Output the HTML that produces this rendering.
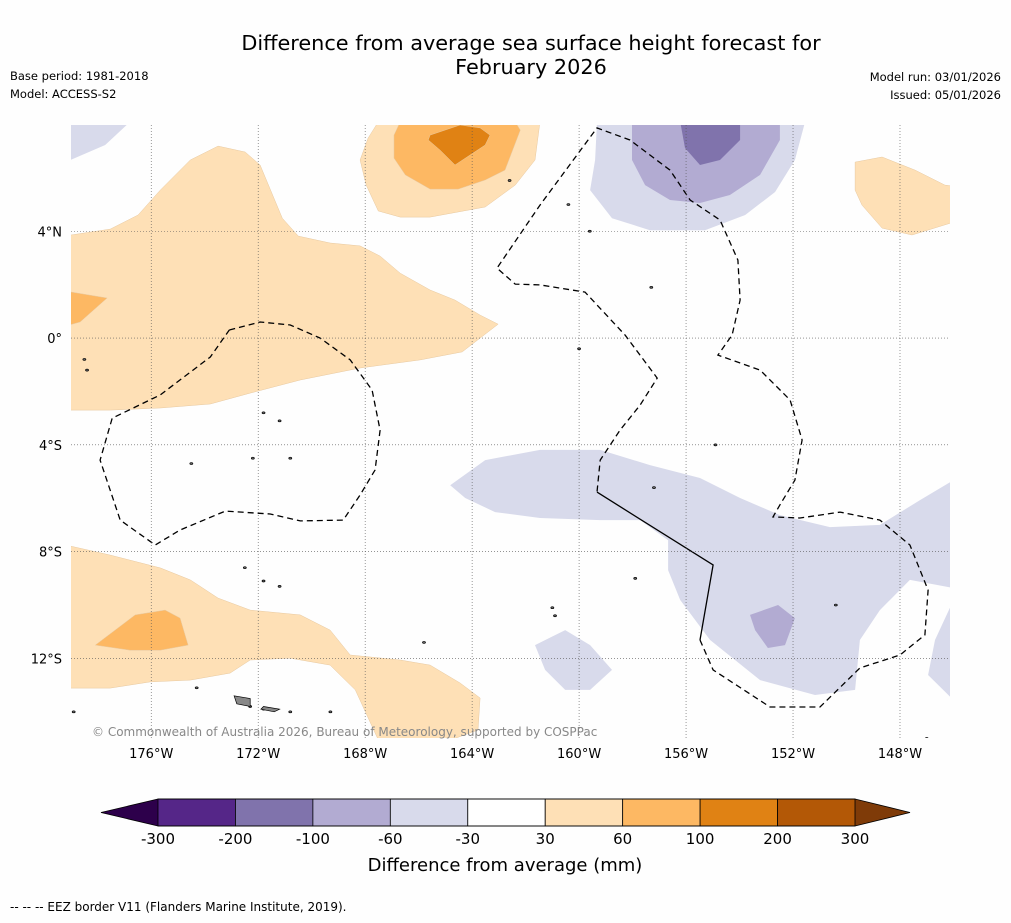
<!DOCTYPE html>
<html><head><meta charset="utf-8"><style>
body{margin:0;background:#fefefe;font-family:"DejaVu Sans","Liberation Sans",sans-serif;}
</style></head><body>
<svg id="chart" width="1011" height="919" xmlns="http://www.w3.org/2000/svg" font-family="DejaVu Sans, Liberation Sans, sans-serif">
<rect width="1011" height="919" fill="#fefefe"/>
<text x="531" y="50" font-size="20.8" text-anchor="middle">Difference from average sea surface height forecast for</text>
<text x="531" y="74" font-size="20.8" text-anchor="middle">February 2026</text>
<text x="10" y="80" font-size="11.5">Base period: 1981-2018</text>
<text x="10" y="98" font-size="11.5">Model: ACCESS-S2</text>
<text x="1001" y="81" font-size="11.5" text-anchor="end">Model run: 03/01/2026</text>
<text x="1001" y="99" font-size="11.5" text-anchor="end">Issued: 05/01/2026</text>
<defs><clipPath id="mapclip"><rect x="71" y="125" width="879" height="613"/></clipPath></defs>
<g id="map" clip-path="url(#mapclip)"></g>
<g id="axes"></g>
<text x="92" y="736" font-size="12" fill="#888">© Commonwealth of Australia 2026, Bureau of Meteorology, supported by COSPPac</text>
<g id="cbar"></g>
<text x="505" y="871" font-size="18" text-anchor="middle">Difference from average (mm)</text>
<text x="10" y="911" font-size="12">--  --  -- EEZ border V11 (Flanders Marine Institute, 2019).</text>
</svg>
<script>
const lonTicks=[-176,-172,-168,-164,-160,-156,-152,-148];
const latTicks=[4,0,-4,-8,-12];
const cbLevels=[-300,-200,-100,-60,-30,30,60,100,200,300];
const cbColors=["#552688","#8073ac","#b2abd2","#d8daeb","#ffffff","#fee0b6","#fdb863","#e08214","#b35806"];
const levelColor={L1:"#d8daeb",L2:"#b2abd2",L3:"#8073ac",O1:"#fee0b6",O2:"#fdb863",O3:"#e08214"};
const contourLevels=["O1","O2","O1","O2","O3","O1","L1","L1","L2","L3","L1","L1","L1","L2","O1","O2"];
const contourShapes=[
"-179,3.86 -177.53,4.08 -176.49,4.61 -175.66,5.54 -174.54,6.67 -173.5,7.19 -172.49,6.97 -171.93,6.48 -171.1,4.49 -170.5,3.82 -169.31,3.56 -168.19,3.45 -167.44,3.07 -166.69,2.43 -165.57,1.8 -164.64,1.42 -163.7,0.86 -163.03,0.52 -164.37,-0.52 -165.94,-0.82 -168.19,-1.12 -170.43,-1.57 -172.3,-2.06 -173.79,-2.47 -175.66,-2.62 -177.53,-2.7 -179.2,-2.7 -179.2,3.86",
"-179.2,1.76 -177.65,1.5 -178.66,0.6 -179.2,0.45",
"-167.51,8.1 -161.46,8.1 -161.65,6.67 -162.39,5.73 -163.51,4.91 -165.57,4.53 -166.69,4.53 -167.51,4.76 -167.96,5.73 -168.19,6.67 -167.89,7.49",
"-166.69,8.1 -162.39,8.1 -162.2,7.79 -162.77,6.29 -163.51,5.92 -164.52,5.58 -165.57,5.58 -166.5,6.11 -166.92,6.74 -166.92,7.6",
"-165.57,7.6 -164.45,7.98 -163.7,7.87 -163.33,7.6 -163.51,7.23 -164.64,6.48 -165.2,7.04 -165.64,7.42",
"-149.68,6.59 -148.67,6.78 -147.44,6.29 -146.32,5.73 -146,5.69 -146,4.34 -147.55,3.86 -148.67,4.12 -149.42,4.98 -149.68,5.54",
"-179.2,8.1 -176.79,8.1 -177.72,7.23 -179.2,6.59",
"-159.33,8.1 -151.55,8.1 -151.93,6.67 -152.67,5.47 -153.79,4.61 -155.29,4.04 -157.35,4.04 -158.77,4.49 -159.59,5.54 -159.4,6.67",
"-158.02,8.1 -152.49,8.1 -152.49,7.42 -153.23,6.11 -154.36,5.36 -155.48,5.06 -156.6,5.17 -157.53,5.73 -158.02,6.67",
"-156.22,8.1 -153.98,8.1 -153.98,7.42 -154.73,6.67 -155.48,6.48 -156.04,7.12",
"-164.82,-5.51 -163.51,-4.57 -161.46,-4.19 -159.21,-4.19 -157.35,-4.76 -155.48,-5.24 -153.98,-5.99 -152.49,-6.63 -150.62,-7.08 -148.75,-7.0 -147.25,-6.07 -146,-5.32 -146,-9.36 -147.63,-9.06 -148.75,-10.19 -149.5,-11.31 -149.68,-13.18 -151.18,-13.37 -153.23,-12.81 -155.1,-11.31 -156.22,-9.81 -156.67,-8.69 -156.67,-7.57 -157.72,-6.82 -159.21,-6.82 -161.46,-6.74 -163.14,-6.52 -164.26,-5.99",
"-146,-9.81 -146.69,-11.31 -146.95,-12.62 -146,-13.56",
"-161.65,-11.5 -160.52,-10.94 -159.59,-11.5 -158.77,-12.43 -159.59,-13.18 -160.52,-13.18 -161.27,-12.43",
"-153.61,-10.37 -152.56,-10.0 -151.93,-10.49 -152.3,-11.5 -152.94,-11.61 -153.42,-10.94",
"-179.2,-7.75 -177.53,-8.13 -175.66,-8.61 -174.54,-9.06 -173.5,-9.74 -172.3,-10.19 -170.43,-10.37 -169.31,-10.94 -168.56,-11.87 -166.69,-12.06 -165.57,-12.25 -164.45,-12.92 -163.7,-13.48 -163.78,-14.68 -165.2,-15.2 -167.44,-15.2 -168.37,-13.18 -169.31,-12.25 -170.8,-11.99 -172.3,-12.06 -173.05,-12.55 -174.54,-12.81 -176.04,-12.88 -177.53,-13.11 -179.2,-13.11",
"-178.09,-11.5 -176.6,-10.37 -175.48,-10.19 -174.92,-10.49 -174.62,-11.5 -175.66,-11.69 -176.79,-11.69"
];
const eezWest="-173.08,0.3 -171.93,0.6 -170.8,0.49 -169.68,0 -168.56,-0.82 -167.74,-1.95 -167.44,-3.45 -167.63,-4.94 -168.19,-5.88 -168.82,-6.82 -170.43,-6.85 -171.55,-6.59 -173.23,-6.48 -174.92,-7.19 -175.85,-7.75 -177.16,-6.82 -177.91,-4.57 -177.46,-3.0 -175.66,-2.13 -173.79,-0.71 -173.08,0.3";
const eezCentral="-155.48,-11.31 -154.99,-12.43 -152.86,-13.82 -150.99,-13.82 -149.5,-12.36 -148.0,-11.87 -147.07,-11.12 -146.95,-9.44 -147.63,-7.75 -148.75,-6.82 -150.24,-6.52 -151.74,-6.74 -152.75,-6.7 -152.49,-6.25 -151.93,-5.32 -151.66,-3.82 -152.11,-2.32 -153.23,-1.2 -154.81,-0.64 -154.28,0.11 -153.98,1.42 -154.06,2.92 -154.73,4.42 -155.85,5.17 -156.6,6.29 -158.1,7.42 -159.33,7.87 -161.46,4.98 -163.07,2.62 -162.39,2.02 -161.46,1.99 -159.78,1.72 -158.28,0.11 -157.08,-1.5 -157.72,-2.51 -158.47,-3.45 -159.21,-4.57 -159.33,-5.77";
const eezSolid="-159.33,-5.77 -154.99,-8.5 -155.48,-11.31";
const islands=["-178.5,-0.8","-178.4,-1.2","-171.8,-2.8","-171.2,-3.1","-174.5,-4.7","-172.2,-4.5","-170.8,-4.5","-172.5,-8.6","-171.8,-9.1","-171.2,-9.3","-161,-10.1","-160.9,-10.4","-157.9,-9.0","-165.8,-11.4","-174.3,-13.1","-172.3,-13.8","-171.8,-13.9","-170.8,-14.0","-169.3,-14.0","-178.9,-14.0","-147,-15","-157.3,1.9","-159.6,4.0","-160.4,5.0","-162.6,5.9","-154.9,-4.0","-157.2,-5.6","-150.4,-10.0","-160,-0.4"];
const ns="http://www.w3.org/2000/svg";
const X0=71,X1=950,Y0=125,Y1=738,LON0=-179,LON1=-146.13,LAT0=7.98,LAT1=-14.98;
function xs(lon){return X0+(lon-LON0)/(LON1-LON0)*(X1-X0);}
function ys(lat){return Y0+(lat-LAT0)/(LAT1-LAT0)*(Y1-Y0);}
function pts(s){return s.split(" ").map(p=>{const [a,b]=p.split(",").map(Number);return xs(a).toFixed(1)+","+ys(b).toFixed(1);}).join(" ");}
function mk(tag,attrs,parent){const e=document.createElementNS(ns,tag);for(const k in attrs)e.setAttribute(k,attrs[k]);parent.appendChild(e);return e;}
const map=document.getElementById("map");
contourShapes.forEach((s,i)=>{
 const p=mk("polygon",{points:pts(s),fill:levelColor[contourLevels[i]],stroke:contourLevels[i][0]=="O"?"#e8c9a0":"none","stroke-width":0.5},map);
 
 
});
const ax=document.getElementById("axes");
lonTicks.forEach(l=>{
 const g=mk("line",{x1:xs(l),x2:xs(l),y1:Y0,y2:Y1,stroke:"#555","stroke-width":0.6,"stroke-dasharray":"1,2"},ax);
 
 
 const t=mk("text",{x:xs(l),y:758,"font-size":13,"text-anchor":"middle"},ax);
 t.textContent=Math.abs(l)+"°W";
 
 
});
latTicks.forEach(l=>{
 const g=mk("line",{x1:X0,x2:X1,y1:ys(l),y2:ys(l),stroke:"#555","stroke-width":0.6,"stroke-dasharray":"1,2"},ax);
 
 
 const t=mk("text",{x:62,y:ys(l)+5,"font-size":13,"text-anchor":"end"},ax);
 t.textContent=l==0?"0°":Math.abs(l)+"°"+(l>0?"N":"S");
 
 
});
const e1=mk("polyline",{points:pts(eezWest),fill:"none",stroke:"#000","stroke-width":1.3,"stroke-dasharray":"6,4"},map);


const e2=mk("polyline",{points:pts(eezCentral),fill:"none",stroke:"#000","stroke-width":1.3,"stroke-dasharray":"6,4"},map);


const e3=mk("polyline",{points:pts(eezSolid),fill:"none",stroke:"#000","stroke-width":1.3},map);


islands.forEach(s=>{const [a,b]=s.split(",").map(Number);
 const c=mk("ellipse",{cx:xs(a),cy:ys(b),rx:1.5,ry:1,fill:"#666",stroke:"#000","stroke-width":0.7},map);
 
 
});
const isl=mk("polygon",{points:pts("-172.9,-13.4 -172.3,-13.5 -172.3,-13.8 -172.8,-13.7"),fill:"#888",stroke:"#000","stroke-width":0.7},map);


const isl2=mk("polygon",{points:pts("-171.8,-13.8 -171.2,-13.9 -171.4,-14.0 -171.9,-13.9"),fill:"#888",stroke:"#000","stroke-width":0.7},map);


const cb=document.getElementById("cbar");
const CB0=158,CB1=855,CBY=799,CBH=27,n=cbColors.length,w=(CB1-CB0)/n;
const lt=mk("polygon",{points:`101,${CBY+CBH/2} ${CB0},${CBY} ${CB0},${CBY+CBH}`,fill:"#2d004b"},cb);


const rt=mk("polygon",{points:`910,${CBY+CBH/2} ${CB1},${CBY} ${CB1},${CBY+CBH}`,fill:"#7f3b08"},cb);


cbColors.forEach((c,i)=>{
 const r=mk("rect",{x:CB0+i*w,y:CBY,width:w,height:CBH,fill:c,stroke:"#000","stroke-width":0.8},cb);
 
 
});
const ol=mk("polygon",{points:`101,${CBY+CBH/2} ${CB0},${CBY} ${CB1},${CBY} 910,${CBY+CBH/2} ${CB1},${CBY+CBH} ${CB0},${CBY+CBH}`,fill:"none",stroke:"#000","stroke-width":0.8},cb);


cbLevels.forEach((v,i)=>{
 const t=mk("text",{x:CB0+i*w,y:844,"font-size":15,"text-anchor":"middle"},cb);
 t.textContent=v;
 
 
});
</script>
</body></html>
